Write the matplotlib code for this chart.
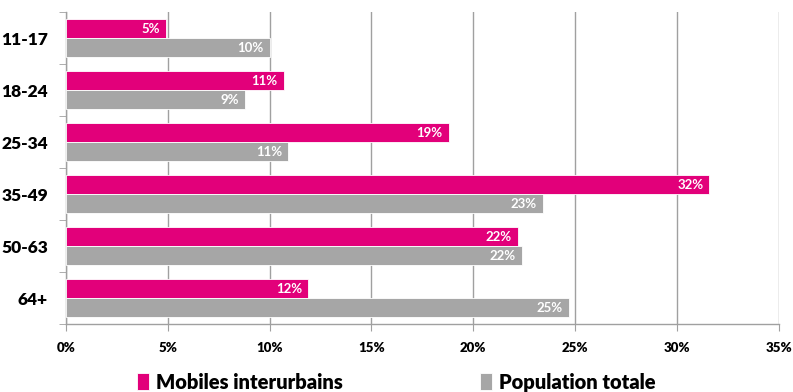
import matplotlib.pyplot as plt
import numpy as np

# Data
categories = ["11-17", "18-24", "25-34", "35-49", "50-63", "64+"]
mobiles = [4.9, 10.7, 18.8, 31.6, 22.2, 11.9]
population = [10.0, 8.8, 10.9, 23.4, 22.4, 24.7]
series_names = ["Mobiles interurbains", "Population totale"]
xticks = [0, 5, 10, 15, 20, 25, 30, 35]

pink = "#E2007A"
grey = "#A6A6A6"
axis_grey = "#A0A0A0"
W = 800  # heavy-ish weight, closest to the bold Calibri look

plt.rcParams["font.family"] = ["Lato", "DejaVu Sans"]

fig = plt.figure(figsize=(7.93, 3.92), dpi=100)
ax = fig.add_axes([0.0832, 0.1727, 0.8988, 0.7959])

y = np.arange(len(categories))
h = 0.365

b1 = ax.barh(y - h / 2, mobiles, height=h, color=pink, edgecolor="white", linewidth=0.6, label=series_names[0], zorder=3)
b2 = ax.barh(y + h / 2, population, height=h, color=grey, edgecolor="white", linewidth=0.6, label=series_names[1], zorder=3)

# value labels inside the bar ends
for bars, vals in [(b1, mobiles), (b2, population)]:
    for bar, v in zip(bars, vals):
        ax.text(v - 0.3, bar.get_y() + bar.get_height() / 2, "{0:.0f}%".format(v),
                ha="right", va="center", color="white", fontsize=9.5, fontweight="bold", zorder=4)

ax.set_xlim(0, 35)
ax.set_ylim(len(categories) - 0.5, -0.5)

ax.set_xticks(xticks)
ax.set_xticklabels(["{0}%".format(t) for t in xticks], fontsize=9.5, fontweight=W)
ax.set_yticks(y)
ax.set_yticklabels(categories, fontsize=12.5, fontweight=W)
ax.set_yticks(np.arange(-0.5, len(categories)), minor=True)
ax.tick_params(axis="y", which="major", length=0, pad=13)
ax.tick_params(axis="y", which="minor", length=5, color=axis_grey, direction="out")
ax.tick_params(axis="x", length=5, color=axis_grey, pad=8)

ax.grid(axis="x", color=axis_grey, linewidth=1, zorder=0)
for s in ["top", "right"]:
    ax.spines[s].set_visible(False)
for s in ["left", "bottom"]:
    ax.spines[s].set_color(axis_grey)
    ax.spines[s].set_linewidth(1)

leg = fig.legend(handles=[b1, b2], loc="center", bbox_to_anchor=(0.5, 0.025), ncol=2,
                 frameon=False, handlelength=0.6, handleheight=0.9,
                 handletextpad=0.35, columnspacing=6.8, prop={"weight": W, "size": 14.5})

plt.savefig("out.png", dpi=100)
